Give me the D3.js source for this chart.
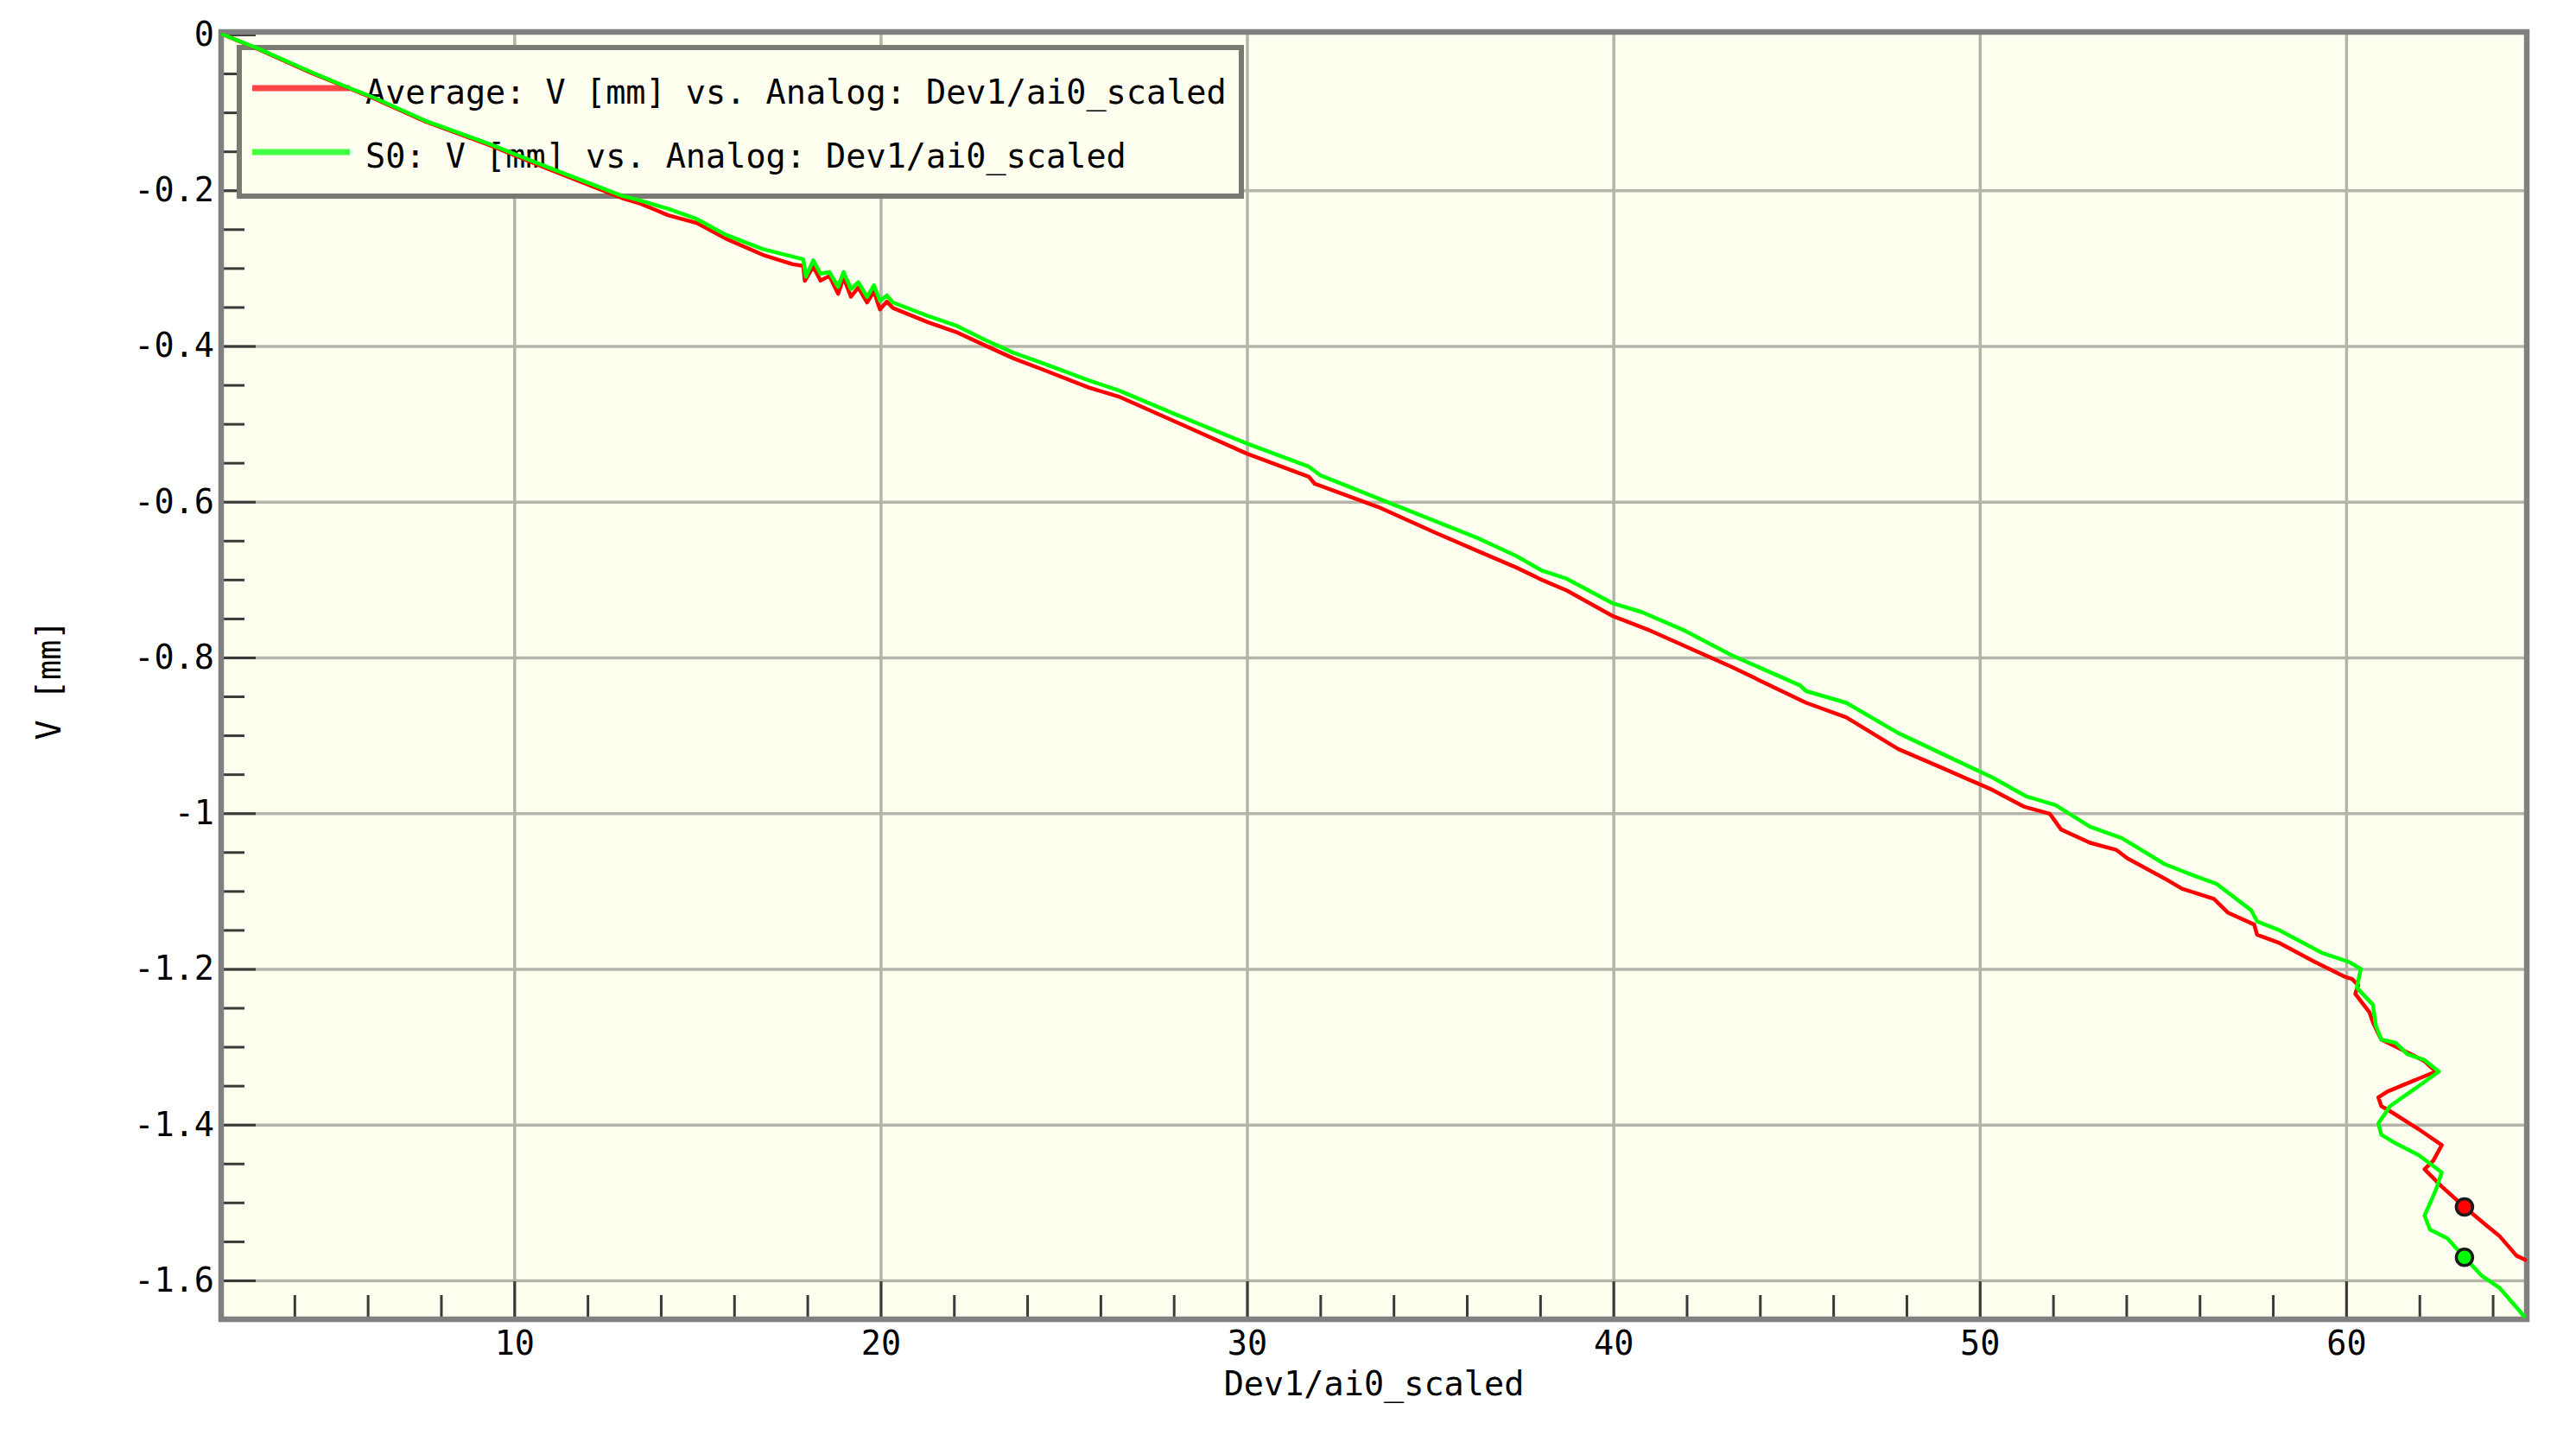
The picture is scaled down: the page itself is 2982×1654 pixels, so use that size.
<!DOCTYPE html>
<html>
<head>
<meta charset="utf-8">
<script src="https://cdn.jsdelivr.net/npm/d3@7"></script>
<style>
  html, body { margin: 0; padding: 0; background: #ffffff; }
  svg { display: block; }
  text { font-family: "DejaVu Sans Mono", monospace; fill: #000; }
</style>
</head>
<body>
<script>
// ---------------- data ----------------
const xMajorTicks = [10, 20, 30, 40, 50, 60];
const xTickLabels = ["10", "20", "30", "40", "50", "60"];
const yMajorTicks = [0, -0.2, -0.4, -0.6, -0.8, -1.0, -1.2, -1.4, -1.6];
const yTickLabels = ["0", "-0.2", "-0.4", "-0.6", "-0.8", "-1", "-1.2", "-1.4", "-1.6"];
const seriesNames = ["Average: V [mm] vs. Analog: Dev1/ai0_scaled", "S0: V [mm] vs. Analog: Dev1/ai0_scaled"];
const xTitle = "Dev1/ai0_scaled";
const yTitle = "V [mm]";

// Average (red)
const avgX = [2.05, 3.03, 4.45, 5.39, 6.17, 7.59, 9.32, 10.89, 12.94, 13.40, 14.20, 14.98, 15.77, 16.79, 17.6, 17.89,
  17.93, 18.16, 18.36, 18.60, 18.84, 18.99, 19.19, 19.39, 19.63, 19.82, 19.98, 20.17, 20.33, 21.27, 22.06, 22.84,
  23.63, 24.41, 25.67, 26.50, 28.08, 30.00, 31.69, 31.85, 33.58, 35.15, 36.33, 37.35, 38.03, 38.73, 39.99, 40.93,
  43.22, 45.25, 46.36, 47.77, 49.03, 50.34, 51.20, 51.91, 52.22, 53.01, 53.72, 54.03, 55.05, 55.52, 56.39, 56.78,
  57.49, 57.57, 58.19, 59.14, 59.95, 60.16, 60.33, 60.25, 60.64, 60.73, 60.96, 61.31, 62.14, 62.45, 61.13, 60.88,
  60.96, 61.28, 61.98, 62.61, 62.38, 62.14, 62.61, 63.23, 63.79, 64.18, 64.65, 64.89];
const avgY = [0, -0.019, -0.049, -0.067, -0.082, -0.112, -0.142, -0.172, -0.210, -0.2164, -0.232, -0.242, -0.262, -0.283, -0.295, -0.297,
  -0.3163, -0.298, -0.316, -0.310, -0.333, -0.312, -0.3366, -0.325, -0.344, -0.330, -0.353, -0.343, -0.351, -0.369, -0.382, -0.399,
  -0.416, -0.430, -0.4532, -0.465, -0.498, -0.5383, -0.568, -0.577, -0.6067, -0.640, -0.664, -0.6845, -0.700, -0.714, -0.747, -0.764,
  -0.812, -0.858, -0.877, -0.9175, -0.943, -0.970, -0.9915, -1.0008, -1.021, -1.038, -1.047, -1.058, -1.084, -1.097, -1.110, -1.128,
  -1.143, -1.156, -1.167, -1.191, -1.2098, -1.213, -1.2209, -1.232, -1.256, -1.2686, -1.2908, -1.2987, -1.3185, -1.3318, -1.3574, -1.3651,
  -1.3762, -1.3851, -1.4059, -1.4262, -1.4462, -1.4573, -1.4795, -1.5058, -1.5280, -1.5428, -1.5683, -1.5738];

// S0 (green)
const s0X = [2.05, 3.03, 4.45, 5.39, 6.17, 7.59, 9.32, 10.89, 12.94, 13.40, 14.20, 14.98, 15.77, 16.79, 17.89,
  17.96, 18.16, 18.36, 18.60, 18.84, 18.99, 19.19, 19.39, 19.63, 19.82, 19.98, 20.17, 20.33, 21.27, 22.06, 22.84,
  23.63, 24.41, 25.67, 26.50, 28.08, 30.00, 31.69, 32.0, 33.58, 35.15, 36.33, 37.35, 38.03, 38.73, 39.99, 40.78,
  41.96, 43.22, 45.10, 45.25, 46.36, 47.77, 49.03, 50.34, 51.28, 52.07, 53.01, 53.88, 55.05, 55.84, 56.47, 57.41,
  57.57, 58.19, 59.37, 60.08, 60.40, 60.29, 60.73, 60.81, 60.96, 61.35, 61.67, 62.14, 62.53, 61.98, 61.20, 60.88,
  60.96, 61.35, 61.98, 62.61, 62.45, 62.14, 62.29, 62.76, 63.23, 63.71, 64.18, 64.65, 64.85];
const s0Y = [0, -0.0185, -0.048, -0.0666, -0.081, -0.111, -0.1406, -0.170, -0.207, -0.2127, -0.2238, -0.2368, -0.257, -0.2756, -0.2886,
  -0.311, -0.290, -0.307, -0.305, -0.324, -0.305, -0.327, -0.318, -0.337, -0.322, -0.342, -0.335, -0.344, -0.361, -0.3737, -0.392,
  -0.4088, -0.4218, -0.444, -0.457, -0.4883, -0.5253, -0.555, -0.566, -0.5957, -0.6252, -0.6474, -0.6696, -0.688, -0.699, -0.7306, -0.7418,
  -0.7658, -0.797, -0.836, -0.843, -0.8583, -0.897, -0.925, -0.954, -0.9786, -0.9897, -1.0174, -1.032, -1.0655, -1.080, -1.091, -1.1247,
  -1.139, -1.1506, -1.180, -1.191, -1.200, -1.224, -1.246, -1.2727, -1.2908, -1.2949, -1.3096, -1.3171, -1.3318, -1.3504, -1.3762, -1.3985,
  -1.4129, -1.4240, -1.4392, -1.4614, -1.4836, -1.5169, -1.5349, -1.5460, -1.5705, -1.5945, -1.6093, -1.6348, -1.6459];

// cursor markers
const cursorX = [63.23, 63.23];
const cursorY = [-1.5058, -1.5705];
const seriesColors = ["#ff0000", "#00ff00"];
const legendColors = ["#ff4545", "#45ff45"];

// ---------------- layout ----------------
const W = 2982, H = 1654;
const L = 256, R = 2925, T = 37, B = 1527;
const FS = 38.5;

const x = d3.scaleLinear().domain([2, 64.93]).range([L, R]);
const y = d3.scaleLinear().domain([0, -1.65]).range([40, B]);

const svg = d3.select("body").append("svg").attr("width", W).attr("height", H);
svg.append("rect").attr("width", W).attr("height", H).attr("fill", "#ffffff");
svg.append("rect").attr("x", L).attr("y", T).attr("width", R - L).attr("height", B - T).attr("fill", "#fffff0");

// grid
const gridX = svg.append("g").attr("transform", `translate(0,${B})`)
  .call(d3.axisBottom(x).tickValues(xMajorTicks).tickSize(-(B - T)).tickFormat(""));
const gridY = svg.append("g").attr("transform", `translate(${L},0)`)
  .call(d3.axisLeft(y).tickValues(yMajorTicks.slice(1)).tickSize(-(R - L)).tickFormat(""));
[gridX, gridY].forEach(g => {
  g.select(".domain").remove();
  g.selectAll("line").attr("stroke", "#b4b4aa").attr("stroke-width", 3.5);
});

// minor ticks
const xMinor = d3.range(4, 65, 2).filter(v => v % 10 !== 0);
const yMinor = d3.range(0, 33).map(i => -i * 0.05).filter((v, i) => i % 4 !== 0);
const gxm = svg.append("g").attr("transform", `translate(0,${B})`)
  .call(d3.axisBottom(x).tickValues(xMinor).tickSize(-28).tickFormat(""));
const gym = svg.append("g").attr("transform", `translate(${L},0)`)
  .call(d3.axisLeft(y).tickValues(yMinor).tickSize(-27).tickFormat(""));

// major ticks + labels
const gx = svg.append("g").attr("transform", `translate(0,${B})`)
  .call(d3.axisBottom(x).tickValues(xMajorTicks).tickSize(-44).tickPadding(14)
    .tickFormat((d, i) => xTickLabels[i]));
const gy = svg.append("g").attr("transform", `translate(${L},0)`)
  .call(d3.axisLeft(y).tickValues(yMajorTicks).tickSize(-40).tickPadding(8)
    .tickFormat((d, i) => yTickLabels[i]));
[gxm, gym, gx, gy].forEach(g => {
  g.select(".domain").remove();
  g.attr("font-family", null).attr("font-size", null);
  g.selectAll("line").attr("stroke", "#3a3a3a").attr("stroke-width", 3);
  g.selectAll("text").attr("font-size", FS).attr("fill", "#000");
});

// frame
svg.append("rect").attr("x", L).attr("y", T).attr("width", R - L).attr("height", B - T)
  .attr("fill", "none").attr("stroke", "#808080").attr("stroke-width", 6.5);

// axis titles
svg.append("text").attr("x", (L + R) / 2).attr("y", 1615).attr("text-anchor", "middle")
  .attr("font-size", FS).text(xTitle);
svg.append("text").attr("transform", `translate(70,${(T + B) / 2 + 5}) rotate(-90)`)
  .attr("text-anchor", "middle").attr("font-size", FS).text(yTitle);

// legend
const leg = svg.append("g");
leg.append("rect").attr("x", 277).attr("y", 55).attr("width", 1160).attr("height", 172)
  .attr("fill", "#fffff0").attr("stroke", "#7a7a72").attr("stroke-width", 6);
const legRows = [102, 176];
seriesNames.forEach((name, i) => {
  leg.append("line").attr("x1", 292).attr("x2", 405).attr("y1", legRows[i]).attr("y2", legRows[i])
    .attr("stroke", legendColors[i]).attr("stroke-width", 7);
  leg.append("text").attr("x", 423).attr("y", legRows[i] + 18).attr("font-size", FS).text(name);
});

// series
const line = d3.line().x(d => x(d[0])).y(d => y(d[1]));
const series = [d3.zip(avgX, avgY), d3.zip(s0X, s0Y)];
series.forEach((pts, i) => {
  svg.append("path").datum(pts).attr("d", line).attr("fill", "none")
    .attr("stroke", seriesColors[i]).attr("stroke-width", 4.5)
    .attr("stroke-linejoin", "round").attr("stroke-linecap", "round");
});

// cursor markers
cursorX.forEach((cx, i) => {
  svg.append("circle").attr("cx", x(cx)).attr("cy", y(cursorY[i])).attr("r", 9.5)
    .attr("fill", seriesColors[i]).attr("stroke", "#1a1a1a").attr("stroke-width", 3.5);
});
</script>
</body>
</html>
